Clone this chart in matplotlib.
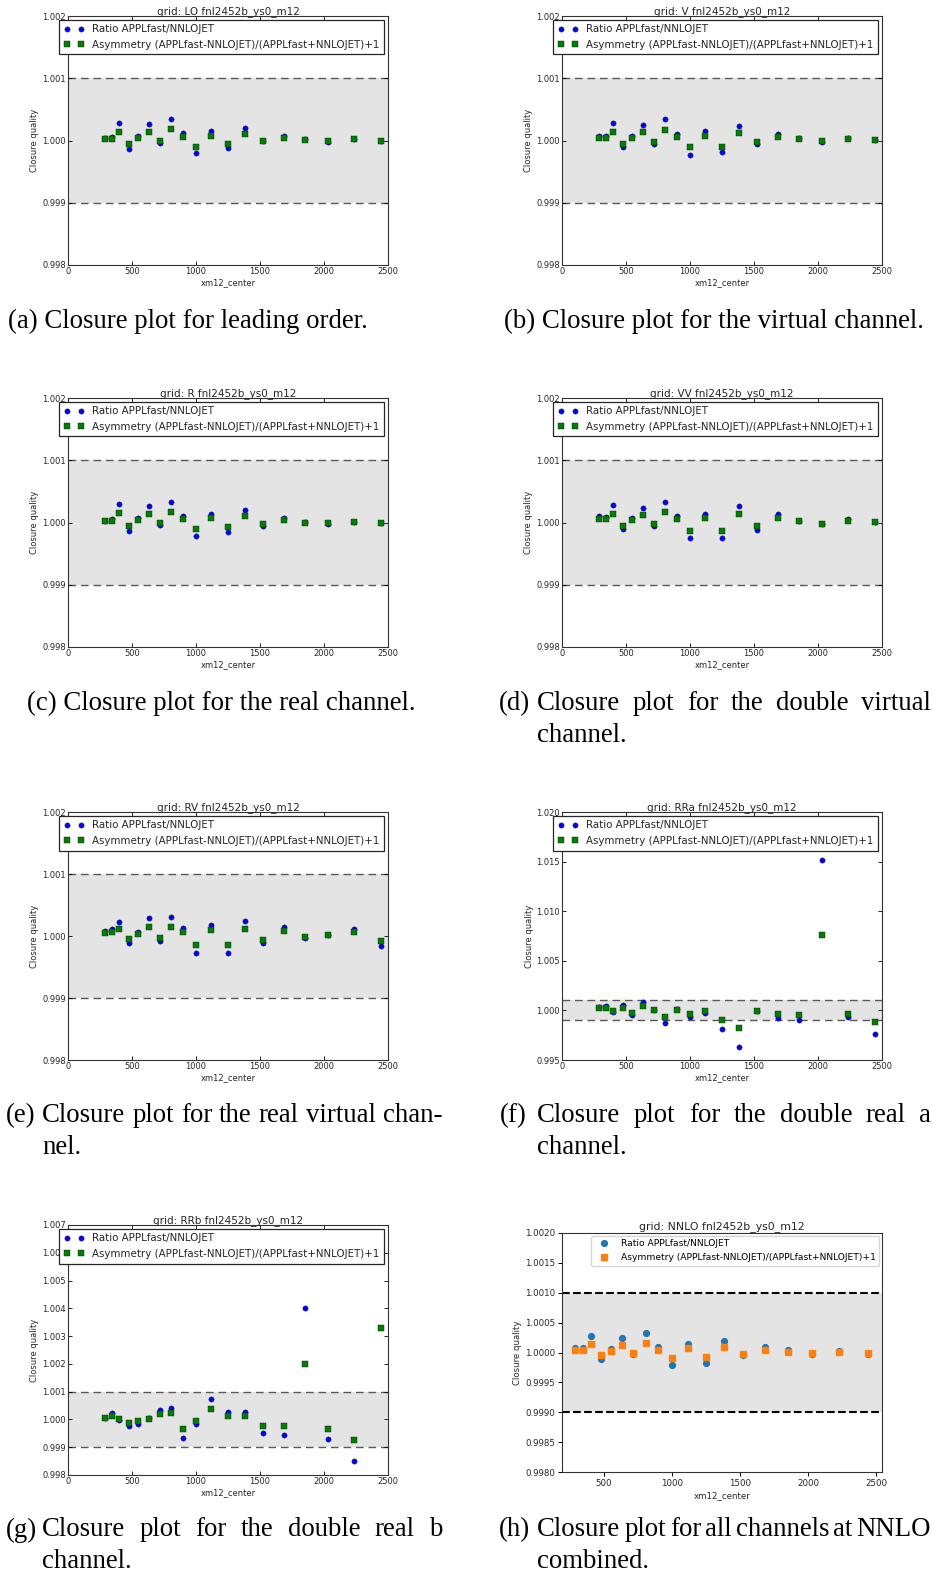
import matplotlib
matplotlib.use('Agg')
import numpy as np
import matplotlib.pyplot as plt
from matplotlib.ticker import FormatStrFormatter

W, H = 933, 1577

# xm12 bin centres (GeV)
xm12 = [289, 342, 400, 475, 548, 631, 715, 808, 899, 1003, 1120, 1247, 1383,
        1525, 1684, 1853, 2032, 2232, 2443]

ratio_lo = [1.00004, 1.00005, 1.00028, 0.99987, 1.000075, 1.00027, 0.99996, 1.00035, 1.00012, 0.9998,
            1.00015, 0.99988, 1.0002, 0.99999, 1.00008, 1.00002, 0.99997, 1.00003, 1.0]
asym_lo = [1.00002, 1.00003, 1.00014, 0.99994, 1.00004, 1.000135, 0.99999, 1.00018, 1.00006, 0.9999,
           1.00008, 0.99994, 1.0001, 1.0, 1.00004, 1.00001, 0.99999, 1.00002, 1.0]

ratio_v = [1.000075, 1.000075, 1.00028, 0.99989, 1.00007, 1.00025, 0.99995, 1.00034, 1.00011, 0.99976,
           1.00015, 0.99981, 1.00023, 0.99995, 1.00011, 1.00004, 0.99998, 1.00004, 1.00001]
asym_v = [1.00004, 1.00004, 1.00014, 0.99995, 1.00004, 1.00013, 0.99998, 1.00017, 1.00005, 0.99989,
          1.00007, 0.9999, 1.00012, 0.99997, 1.00006, 1.00002, 0.99999, 1.00002, 1.00001]

ratio_r = [1.00002, 1.00006, 1.0003, 0.99987, 1.00007, 1.00027, 0.99996, 1.00033, 1.00011, 0.99978,
           1.00014, 0.99984, 1.0002, 0.99995, 1.00008, 1.00001, 0.99997, 1.00001, 1.0]
asym_r = [1.00002, 1.00002, 1.00015, 0.99994, 1.00004, 1.00014, 0.99999, 1.00017, 1.00006, 0.9999,
          1.00007, 0.99992, 1.0001, 0.99998, 1.00004, 1.0, 0.99999, 1.00001, 1.0]

ratio_vv = [1.0001, 1.00009, 1.00028, 0.9999, 1.00007, 1.00024, 0.99994, 1.00033, 1.0001, 0.99975,
            1.00014, 0.99975, 1.00026, 0.99988, 1.00014, 1.00003, 0.99997, 1.00005, 1.00001]
asym_vv = [1.00006, 1.00005, 1.00014, 0.99995, 1.00004, 1.00012, 0.99998, 1.00017, 1.00006, 0.99987,
           1.00008, 0.99987, 1.00013, 0.99994, 1.00007, 1.00002, 0.99998, 1.00002, 1.00001]

ratio_rv = [1.00008, 1.00011, 1.00023, 0.99989, 1.00006, 1.00029, 0.99992, 1.0003, 1.00013, 0.99973,
            1.00017, 0.99973, 1.00024, 0.99988, 1.00015, 0.99996, 1.00001, 1.00012, 0.99984]
asym_rv = [1.00005, 1.00006, 1.00011, 0.99995, 1.00003, 1.00015, 0.99996, 1.00015, 1.00007, 0.99986,
           1.00009, 0.99986, 1.00012, 0.99994, 1.00008, 0.99999, 1.00001, 1.00006, 0.99992]

ratio_rra = [1.0003, 1.0004, 0.9998, 1.0005, 0.9995, 1.0008, 1.0, 0.9987, 1.0001, 0.9993,
             0.9997, 0.9981, 0.9963, 0.9999, 0.9992, 0.999, 1.0152, 0.9993, 0.9976]
asym_rra = [1.0002, 1.0002, 0.9999, 1.0002, 0.9997, 1.0004, 1.0, 0.9993, 1.0, 0.9996,
            0.9999, 0.999, 0.9982, 0.9999, 0.9996, 0.9995, 1.0076, 0.9996, 0.9988]

ratio_rrb = [1.00005, 1.00023, 0.99998, 0.99976, 0.99984, 1.00004, 1.00035, 1.00043, 0.99932, 0.99984,
             1.00075, 1.00025, 1.00025, 0.99952, 0.99945, 1.004, 0.99928, 0.99849, 1.0066]
asym_rrb = [1.00005, 1.00012, 1.0, 0.99988, 0.99994, 1.00002, 1.00019, 1.00023, 0.99966, 0.99993,
            1.00038, 1.00013, 1.00013, 0.99978, 0.99975, 1.002, 0.99964, 0.99926, 1.0033]

ratio_nnlo = [1.000075, 1.00007, 1.00028, 0.99989, 1.00006, 1.00025, 0.99997, 1.00033, 1.0001, 0.99979,
              1.00014, 0.99983, 1.00019, 0.99996, 1.00009, 1.00004, 0.99998, 1.00002, 0.99998]
asym_nnlo = [1.00004, 1.00004, 1.00014, 0.99995, 1.00003, 1.00012, 0.99999, 1.00016, 1.00005, 0.9999,
             1.00008, 0.99992, 1.0001, 0.99998, 1.00004, 1.00001, 0.99999, 1.00001, 0.99999]

ratio_label = 'Ratio APPLfast/NNLOJET'
asym_label = 'Asymmetry (APPLfast-NNLOJET)/(APPLfast+NNLOJET)+1'
band = '#e4e4e4'

fig = plt.figure(figsize=(W / 100, H / 100), dpi=100)


def add_axes(x0, y0, x1, y1):
    # pixel box (top-left origin) -> figure fraction
    return fig.add_axes([x0 / W, 1 - y1 / H, (x1 - x0) / W, (y1 - y0) / H])


def old_panel(box, name, ratio, asym, ylo, yhi, nticks):
    ax = add_axes(*box)
    ax.axhspan(0.999, 1.001, color=band, lw=0, zorder=0)
    for yv in (0.999, 1.001):
        ax.axhline(yv, color='0.35', lw=1.0, dashes=(5.5, 3.5), zorder=1)
    ax.plot(xm12, ratio, 'o', color='b', ms=3.8, mec='0.1', mew=0.3, label=ratio_label, zorder=3)
    ax.plot(xm12, asym, 's', color=(0, 0.5, 0), ms=3.7, mec='0.1', mew=0.3, label=asym_label, zorder=3)
    ax.set_xlim(0, 2500)
    ax.set_ylim(ylo, yhi)
    ax.set_xticks(np.arange(0, 2501, 500))
    ax.set_yticks(np.linspace(ylo, yhi, nticks))
    ax.yaxis.set_major_formatter(FormatStrFormatter('%.3f'))
    ax.tick_params(direction='in', top=True, right=True, length=3, width=0.6,
                   labelsize=6, pad=1.5, labelcolor='0.15')
    for sp in ax.spines.values():
        sp.set_linewidth(0.8)
        sp.set_color('0.2')
    ax.set_title('grid: %s fnl2452b_ys0_m12' % name, fontsize=7.5, pad=1.5, color='0.15')
    ax.set_xlabel('xm12_center', fontsize=6, labelpad=1.5, color='0.15')
    ax.set_ylabel('Closure quality', fontsize=6, labelpad=2, color='0.15')
    leg = ax.legend(loc='upper right', numpoints=2, fontsize=7.4, fancybox=False, framealpha=1,
                    edgecolor='0.15', borderaxespad=0.35, borderpad=0.45, labelspacing=0.55,
                    handlelength=2.0, handletextpad=0.8)
    leg.get_frame().set_linewidth(0.9)
    for t in leg.get_texts():
        t.set_color('0.15')
    return ax


old_panel((68, 16, 388, 265), 'LO', ratio_lo, asym_lo, 0.998, 1.002, 5)
old_panel((562, 16, 882, 265), 'V', ratio_v, asym_v, 0.998, 1.002, 5)
old_panel((68, 398, 388, 647), 'R', ratio_r, asym_r, 0.998, 1.002, 5)
old_panel((562, 398, 882, 647), 'VV', ratio_vv, asym_vv, 0.998, 1.002, 5)
old_panel((68, 812, 388, 1060), 'RV', ratio_rv, asym_rv, 0.998, 1.002, 5)
old_panel((562, 812, 882, 1060), 'RRa', ratio_rra, asym_rra, 0.995, 1.020, 6)
old_panel((68, 1225, 388, 1475), 'RRb', ratio_rrb, asym_rrb, 0.998, 1.007, 10)

# combined NNLO panel, newer default style
ax = add_axes(562, 1233, 882, 1472)
ax.axhspan(0.999, 1.001, color=band, lw=0, zorder=0)
for yv in (0.999, 1.001):
    ax.axhline(yv, color='k', ls='--', lw=1.5, zorder=1)
ax.plot(xm12, ratio_nnlo, 'o', color='tab:blue', ms=4.2, label=ratio_label, zorder=3)
ax.plot(xm12, asym_nnlo, 's', color='tab:orange', ms=4.0, label=asym_label, zorder=3)
ax.set_xlim(190, 2545)
ax.set_ylim(0.998, 1.002)
ax.set_xticks(np.arange(500, 2501, 500))
ax.set_yticks(np.linspace(0.998, 1.002, 9))
ax.yaxis.set_major_formatter(FormatStrFormatter('%.4f'))
ax.tick_params(length=3, width=0.7, labelsize=6.2, pad=2, labelcolor='0.15')
for sp in ax.spines.values():
    sp.set_linewidth(0.8)
    sp.set_color('0.2')
ax.set_title('grid: NNLO fnl2452b_ys0_m12', fontsize=7.8, pad=3, color='0.15')
ax.set_xlabel('xm12_center', fontsize=6.2, labelpad=2, color='0.15')
ax.set_ylabel('Closure quality', fontsize=6.2, labelpad=2, color='0.15')
ax.legend(loc='upper right', fontsize=6.6, borderaxespad=0.3)

# sub-figure captions
cap_kw = dict(family='Liberation Serif', fontsize=19.3, va='center', ha='left', color='black')
renderer = fig.canvas.get_renderer()


def fig_text(x, y, s):
    return fig.text(x / W, 1 - y / H, s, **cap_kw)


def justified(words, x0, x1, y):
    texts = [fig_text(0, y, w) for w in words]
    widths = [t.get_window_extent(renderer).width for t in texts]
    gap = (x1 - x0 - sum(widths)) / (len(words) - 1)
    x = x0
    for t, w in zip(texts, widths):
        t.set_x(x / W)
        x += w + gap


def caption(tag, lines, x_tag, x_text, x_end, y, dy=31):
    fig_text(x_tag, y, tag)
    for i, line in enumerate(lines):
        if i < len(lines) - 1:
            justified(line.split(), x_text, x_end, y + i * dy)
        else:
            fig_text(x_text, y + i * dy, line)


fig_text(8, 321, '(a) Closure plot for leading order.')
fig_text(504, 321, '(b) Closure plot for the virtual channel.')
fig_text(27, 703, '(c) Closure plot for the real channel.')
caption('(d)', ['Closure plot for the double virtual', 'channel.'], 499, 537, 931, 704)
caption('(e)', ['Closure plot for the real virtual chan-', 'nel.'], 6, 42, 442, 1116)
caption('(f)', ['Closure plot for the double real a', 'channel.'], 500, 537, 931, 1116)
caption('(g)', ['Closure plot for the double real b', 'channel.'], 6, 42, 442, 1530)
caption('(h)', ['Closure plot for all channels at NNLO', 'combined.'], 499, 537, 931, 1530)

fig.savefig('out.png', dpi=100, facecolor='white')
